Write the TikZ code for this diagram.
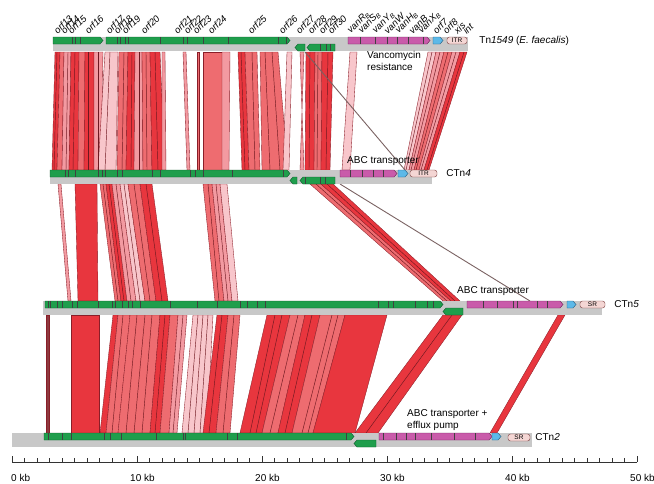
\documentclass[tikz,border=0pt]{standalone}
\usepackage{fontspec}
\setmainfont{Liberation Sans}
\usetikzlibrary{positioning}
\definecolor{VerdeGen}{HTML}{1F9E4C}
\definecolor{VerdeOscuro}{HTML}{0D5A2A}
\definecolor{MagentaGen}{HTML}{C95BAA}
\definecolor{MagentaOscuro}{HTML}{6A1F55}
\definecolor{AzulGen}{HTML}{5CB9E8}
\definecolor{AzulOscuro}{HTML}{245C80}
\definecolor{RosaCaja}{HTML}{F4D6D4}
\definecolor{BordeCaja}{HTML}{7A3A3A}
\definecolor{GrisEje}{HTML}{C8C8C8}
\definecolor{GrisLinea}{HTML}{7A6262}
\definecolor{RojoCinta}{HTML}{E8363E}
\definecolor{SalmonCinta}{HTML}{EE6C70}
\definecolor{RosaCinta}{HTML}{F39AA1}
\definecolor{RosaClaro}{HTML}{F8C6CB}
\definecolor{OscuroCinta}{HTML}{8E3A40}
\definecolor{BordeCinta}{HTML}{8A1E28}

% genes como flechas: inicio, fin, borde superior, estilo
\newcommand{\genfwd}[4]{\filldraw[#4] (#1,#3) -- ({#2-3},#3) -- (#2,{#3+3.5}) -- ({#2-3},{#3+7}) -- (#1,{#3+7}) -- cycle;}
\newcommand{\genrev}[4]{\filldraw[#4] (#2,#3) -- ({#1+3},#3) -- (#1,{#3+3.5}) -- ({#1+3},{#3+7}) -- (#2,{#3+7}) -- cycle;}

\begin{document}
\begin{tikzpicture}[x=1pt,y=-1pt,
    columna/.style={fill=GrisEje},
    verde/.style={fill=VerdeGen,draw=VerdeOscuro,line width=0.4pt},
    magenta/.style={fill=MagentaGen,draw=MagentaOscuro,line width=0.4pt},
    azul/.style={fill=AzulGen,draw=AzulOscuro,line width=0.4pt},
    corte/.style={draw=black!75,line width=0.5pt},
    cinta/.style={draw=BordeCinta,line width=0.35pt},
    raya/.style={draw=BordeCinta!80!black,line width=0.45pt},
    enlace/.style={draw=GrisLinea,line width=0.9pt},
    caja/.style={draw=BordeCaja,fill=RosaCaja,rounded corners=2.5pt,minimum width=#1,minimum height=7pt,inner sep=0pt,font=\fontsize{6.5}{7}\selectfont},
    orf/.style={rotate=45,anchor=south west,inner sep=0pt,font=\fontsize{9.5}{10}\selectfont\itshape},
    texto/.style={inner sep=0pt,align=left,font=\fontsize{10}{12}\selectfont},
    eje/.style={draw=black!80,line width=0.5pt}]
  \useasboundingbox (0,0) rectangle (654,483);

  % cintas Tn1549 - CTn4
  \foreach \a/\b/\c/\d/\col in {55/60/52/57/RojoCinta,60/64/57/62/SalmonCinta,64/71/62/69/RosaCinta,
      71/79/69/78/RojoCinta,79/85/78/84/SalmonCinta,85/94/84/94/RojoCinta,94/103/94/101/RosaCinta,
      105/118/98/116/RosaClaro,119/128/117/126/SalmonCinta,128/135/126/134/RojoCinta,
      135/142/134/143/RosaCinta,142/150/143/152/SalmonCinta,150/160/152/165/RojoCinta,
      162/165/162/166/RosaCinta,183/186/187/190/RosaCinta,197/199/197/199/SalmonCinta,
      203/222/203/222/SalmonCinta,222/230/222/229/RosaCinta,238/245/242/249/RojoCinta,
      245/257/249/260/SalmonCinta,260/278/262/288/SalmonCinta,287/292/283/289/RosaClaro,
      300/304/304/300/RosaCinta,306/315/305/314/RojoCinta,315/322/314/321/SalmonCinta,
      322/333/321/330/RojoCinta,350/357/342/350/RosaClaro,428/436/404/409/RosaClaro,
      436/444/409/414/RosaCinta,444/452/414/419/SalmonCinta,452/460/419/424/RosaCinta,
      460/467/424/429/RojoCinta}
    \filldraw[cinta,fill=\col] (\a,52) -- (\b,52) -- (\d,170) -- (\c,170) -- cycle;
  \foreach \a/\c in {57/54,68/66,75/73,88/88,98/98,110/105,124/122,132/131,139/139,146/147,155/158,
      241/245,252/255,265/270,272/280,310/309,318/317,328/326,432/406,440/411,448/416,456/421,464/427}
    \draw[raya] (\a,52) -- (\c,170);
  \draw[enlace] (305,52) -- (405,170);

  % cintas CTn4 - CTn5
  \foreach \a/\b/\c/\d/\col in {58/61/68/71/RosaCinta,75/97/78/98/RojoCinta,100/106/115/121/SalmonCinta,
      106/112/121/127/RojoCinta,112/120/127/136/RosaCinta,120/128/136/145/RosaClaro,
      128/140/145/156/SalmonCinta,140/152/156/168/RojoCinta,203/212/215/224/SalmonCinta,
      212/220/224/232/RosaCinta,220/227/232/238/RosaClaro,310/321/443/451/SalmonCinta,
      321/333/451/460/RojoCinta}
    \filldraw[cinta,fill=\col] (\a,184) -- (\b,184) -- (\d,301) -- (\c,301) -- cycle;
  \foreach \a/\c in {103/118,109/124,116/131,124/140,134/150,146/162,208/219,216/228,316/447,327/455}
    \draw[raya] (\a,184) -- (\c,301);
  \draw[enlace] (340,184) -- (530,301);

  % cintas CTn5 - CTn2
  \foreach \a/\b/\c/\d/\col in {46/49/46/49/OscuroCinta,71/99/71/99/RojoCinta,113/118/100/106/RojoCinta,
      118/130/106/118/SalmonCinta,130/160/118/150/SalmonCinta,160/170/150/160/RojoCinta,
      170/178/160/169/SalmonCinta,178/187/169/177/RosaCinta,193/213/182/207/RosaClaro,
      217/228/203/216/RojoCinta,228/240/216/230/SalmonCinta,267/290/240/262/RojoCinta,
      290/305/262/278/SalmonCinta,305/320/278/292/RojoCinta,320/345/292/313/SalmonCinta,
      345/387/313/355/RojoCinta,443/462/355/378/RojoCinta,558/565/490/497/RojoCinta}
    \filldraw[cinta,fill=\col] (\a,315) -- (\b,315) -- (\d,433) -- (\c,433) -- cycle;
  \foreach \a/\c in {123/112,137/126,145/134,152/142,165/155,183/173,198/188,203/194,208/200,222/209,
      234/223,275/250,282/256,298/270,312/285,332/302,338/308,452/366}
    \draw[raya] (\a,315) -- (\c,433);

  % Tn1549
  \fill[columna] (53,37) rectangle (468,51);
  \genfwd{53}{103}{37}{verde}
  \genfwd{106}{290}{37}{verde}
  \foreach \t in {72,75,80,117,120,125,128,160,183,187,203,228,278,286}
    \draw[corte] (\t,37) -- (\t,44);
  \genrev{295}{305}{44}{verde}
  \genrev{307}{335}{44}{verde}
  \foreach \t in {320,326,330} \draw[corte] (\t,44) -- (\t,51);
  \genfwd{348}{430}{37}{magenta}
  \foreach \t in {360,375,387,397,408,423} \draw[corte] (\t,37) -- (\t,44);
  \genfwd{433}{443}{37}{azul}
  \node[caja=20pt] (itrA) at (457,40.5) {ITR};
  \node[texto,anchor=west,right=12pt of itrA] (tn1549) {Tn\textit{1549} (\textit{E. faecalis})};
  \node[texto,anchor=north west] (vanres) at (367,51) {Vancomycin\\resistance};
  \foreach \x/\t [count=\i] in {58/orf13,65/orf14,72/orf15,89/orf16,110/orf17,118/orf18,126/orf19,
      145/orf20,178/orf21,188/orf22,197/orf23,212/orf24,252/orf25,283/orf26,300/orf27,312/orf28,
      323/orf29,332/orf30,352/{vanR\textsubscript{B}},363/{vanS\textsubscript{B}},
      377/{vanY\textsubscript{B}},388/vanW,400/{vanH\textsubscript{B}},413/{vanB},
      423/{vanX\textsubscript{B}},437/orf7,447/orf8,458/xis,467/int}
    \node[orf] (gen\i) at (\x,35) {\t};

  % CTn4
  \fill[columna] (50,170) rectangle (432,184);
  \genfwd{50}{290}{170}{verde}
  \foreach \t in {65,68,75,98,102,105,117,122,152,160,190,195,203,232,283}
    \draw[corte] (\t,170) -- (\t,177);
  \genrev{290}{297}{177}{verde}
  \genrev{300}{335}{177}{verde}
  \foreach \t in {305,320,325} \draw[corte] (\t,177) -- (\t,184);
  \genfwd{340}{397}{170}{magenta}
  \foreach \t in {350,362,373,383} \draw[corte] (\t,170) -- (\t,177);
  \genfwd{398}{408}{170}{azul}
  \node[caja=27pt] (itrB) at (423.5,173.5) {ITR};
  \node[texto,anchor=west,right=9pt of itrB] (ctn4) {CTn\textit{4}};
  \node[texto,anchor=west] (abcA) at (347,161) {ABC transporter};

  % CTn5
  \fill[columna] (43,301) rectangle (602,315);
  \genfwd{45}{443}{301}{verde}
  \foreach \t in {48,50,57,62,72,77,98,112,115,122,128,132,140,170,197,217,240,247,257,265,378,388,393,415,427,433}
    \draw[corte] (\t,301) -- (\t,308);
  \genrev{443}{463}{308}{verde}
  \genfwd{467}{563}{301}{magenta}
  \foreach \t in {483,497,513,517,537,547} \draw[corte] (\t,301) -- (\t,308);
  \genfwd{567}{576}{301}{azul}
  \node[caja=25pt] (srA) at (592.5,304.5) {SR};
  \node[texto,anchor=west,right=9pt of srA] (ctn5) {CTn\textit{5}};
  \node[texto,anchor=west] (abcB) at (457,291) {ABC transporter};

  % CTn2
  \fill[columna] (12,433) rectangle (532,447);
  \genfwd{44}{354}{433}{verde}
  \foreach \t in {48,62,71,104,110,121,156,183,185,227,237,346}
    \draw[corte] (\t,433) -- (\t,440);
  \genrev{354}{376}{440}{verde}
  \genfwd{379}{492}{433}{magenta}
  \foreach \t in {383,396,406,415,431,454,475} \draw[corte] (\t,433) -- (\t,440);
  \genfwd{492}{501}{433}{azul}
  \node[caja=22pt] (srB) at (519,437.5) {SR};
  \node[texto,anchor=west,right=5pt of srB] (ctn2) {CTn\textit{2}};
  \node[texto,anchor=west] (abcC) at (407,420) {ABC transporter +\\efflux pump};

  % escala
  \draw[eje] (12,462) -- (637,462);
  \foreach \k in {0,...,50} \draw[eje] ({12+12.5*\k},462) -- ({12+12.5*\k},458);
  \foreach \k in {0,10,...,50} \draw[eje] ({12+12.5*\k},462) -- ({12+12.5*\k},456);
  \node[texto,anchor=west] (kb0) at (11,478) {0 kb};
  \foreach \k in {10,20,30,40,50}
    \node[texto,anchor=west] (kb\k) at ({12+12.5*\k-7},478) {\k\ kb};
\end{tikzpicture}
\end{document}
